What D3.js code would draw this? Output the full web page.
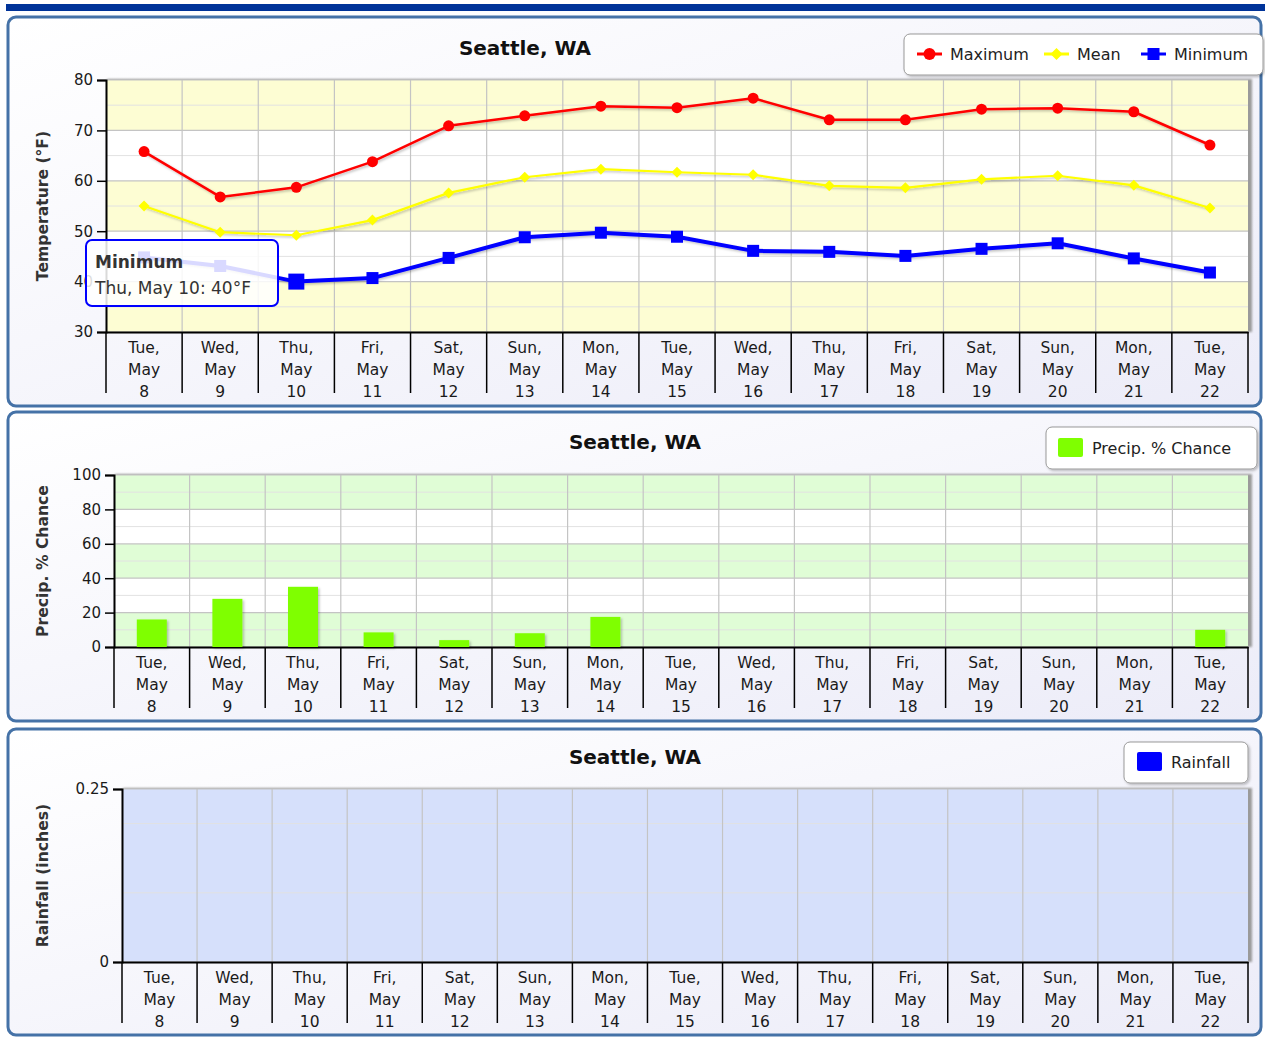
<!DOCTYPE html>
<html>
<head>
<meta charset="utf-8">
<script src="https://cdn.jsdelivr.net/npm/d3@7"></script>
<style>
  html, body { margin: 0; padding: 0; background: #fff; }
  svg { display: block; font-family: "DejaVu Sans", Verdana, sans-serif; }
</style>
</head>
<body>
<svg id="chart" width="1265" height="1038"></svg>
<script>
// data
const dayNames = ['Tue','Wed','Thu','Fri','Sat','Sun','Mon','Tue','Wed','Thu','Fri','Sat','Sun','Mon','Tue'];
const dayNums  = [8, 9, 10, 11, 12, 13, 14, 15, 16, 17, 18, 19, 20, 21, 22];
const tempMax  = [65.8, 56.8, 58.7, 63.8, 70.9, 72.9, 74.8, 74.5, 76.4, 72.1, 72.1, 74.2, 74.4, 73.7, 67.1];
const tempMean = [55.0, 49.8, 49.2, 52.2, 57.6, 60.7, 62.3, 61.7, 61.2, 59.0, 58.6, 60.3, 61.0, 59.1, 54.6];
const tempMin  = [44.8, 43.1, 40.0, 40.7, 44.7, 48.8, 49.7, 48.9, 46.1, 45.9, 45.1, 46.5, 47.6, 44.6, 41.8];
const precipChance = [16, 28, 35, 8.5, 4, 8, 17.5, 0, 0, 0, 0, 0, 0, 0, 10];
const rainfall = [0, 0, 0, 0, 0, 0, 0, 0, 0, 0, 0, 0, 0, 0, 0];
const tempTicks = [30, 40, 50, 60, 70, 80];
const precipTicks = [0, 20, 40, 60, 80, 100];
const rainTicks = [0, 0.25];

const cats = dayNums.map((d, i) => dayNames[i] + '|' + d);

const svg = d3.select('#chart');
const defs = svg.append('defs');

const grad = defs.append('linearGradient').attr('id', 'panelBg')
  .attr('x1', 0).attr('y1', 0).attr('x2', 1).attr('y2', 1);
grad.append('stop').attr('offset', '0%').attr('stop-color', '#ffffff');
grad.append('stop').attr('offset', '100%').attr('stop-color', '#ececf8');

const sh = defs.append('filter').attr('id', 'shadow')
  .attr('x', '-20%').attr('y', '-20%').attr('width', '150%').attr('height', '150%');
sh.append('feDropShadow').attr('dx', 1.5).attr('dy', 1.5).attr('stdDeviation', 1.2)
  .attr('flood-color', '#000').attr('flood-opacity', 0.25);

const blur = defs.append('filter').attr('id', 'blur');
blur.append('feGaussianBlur').attr('stdDeviation', 1.2);

// top dark bar
svg.append('rect').attr('x', 6).attr('y', 4).attr('width', 1259).attr('height', 7).attr('fill', '#003399');

function panel(o) {
  const g = svg.append('g');
  g.append('rect').attr('x', 8).attr('y', o.top).attr('width', 1253).attr('height', o.bottom - o.top)
    .attr('rx', 8).attr('fill', 'url(#panelBg)').attr('stroke', '#4572a7').attr('stroke-width', 3);

  g.append('text').attr('x', o.titleX).attr('y', o.titleY).attr('text-anchor', 'middle')
    .attr('font-size', 20).attr('font-weight', 'bold').attr('fill', '#111').text('Seattle, WA');

  const x = d3.scaleBand().domain(cats).range([o.x0, o.x1]);
  const y = d3.scaleLinear().domain(o.domain).range([o.y1, o.y0]);

  // plot shadow
  g.append('rect').attr('x', o.x0 + 1).attr('y', o.y0 - 1).attr('width', o.x1 - o.x0 + 3).attr('height', o.y1 - o.y0 + 1)
    .attr('fill', '#9a9a9a').attr('filter', 'url(#blur)');
  g.append('rect').attr('x', o.x0).attr('y', o.y0).attr('width', o.x1 - o.x0).attr('height', o.y1 - o.y0)
    .attr('fill', o.plotBg);

  // bands
  o.bands.forEach(b => {
    g.append('rect').attr('x', o.x0).attr('width', o.x1 - o.x0)
      .attr('y', y(b[1])).attr('height', y(b[0]) - y(b[1])).attr('fill', b[2]);
  });

  // minor grid
  g.selectAll(null).data(o.minor).enter().append('line')
    .attr('x1', o.x0).attr('x2', o.x1).attr('y1', d => y(d)).attr('y2', d => y(d))
    .attr('stroke', '#e2e2e2').attr('stroke-width', 1);
  // major grid
  g.selectAll(null).data(o.ticks).enter().append('line')
    .attr('x1', o.x0).attr('x2', o.x1).attr('y1', d => y(d)).attr('y2', d => y(d))
    .attr('stroke', '#c4c4c4').attr('stroke-width', 1.2);
  // vertical grid at category boundaries
  g.selectAll(null).data(cats.slice(1)).enter().append('line')
    .attr('x1', d => x(d)).attr('x2', d => x(d)).attr('y1', o.y0).attr('y2', o.y1)
    .attr('stroke', '#c4c4c4').attr('stroke-width', 1.2);

  // y axis
  const ya = g.append('g').attr('transform', 'translate(' + o.x0 + ',0)')
    .call(d3.axisLeft(y).tickValues(o.ticks).tickSize(9).tickPadding(4).tickFormat(o.fmt));
  ya.select('.domain').attr('stroke', '#000').attr('stroke-width', 2);
  ya.selectAll('.tick line').attr('stroke', '#000').attr('stroke-width', 1.5);
  ya.selectAll('.tick text').attr('font-size', 15).attr('fill', '#1a1a1a')
    .attr('font-family', '"DejaVu Sans", Verdana, sans-serif');

  // y title
  g.append('text').attr('transform', 'translate(' + 48 + ',' + ((o.y0 + o.y1) / 2) + ') rotate(-90)')
    .attr('text-anchor', 'middle').attr('font-size', 15.6).attr('font-weight', 'bold').attr('fill', '#333')
    .text(o.yTitle);

  // x axis
  const xa = g.append('g').attr('transform', 'translate(0,' + o.y1 + ')')
    .call(d3.axisBottom(x).tickSize(0).tickFormat(''));
  xa.select('.domain').attr('stroke', '#000').attr('stroke-width', 2);
  g.selectAll(null).data(cats.concat(['end'])).enter().append('line')
    .attr('x1', (d, i) => i < cats.length ? x(d) : o.x1)
    .attr('x2', (d, i) => i < cats.length ? x(d) : o.x1)
    .attr('y1', o.y1).attr('y2', o.y1 + 61)
    .attr('stroke', '#000').attr('stroke-width', 1.5);
  const lab = g.selectAll(null).data(cats).enter().append('text')
    .attr('text-anchor', 'middle').attr('font-size', 15.5).attr('fill', '#1a1a1a');
  lab.each(function (d) {
    const parts = d.split('|');
    const t = d3.select(this);
    const cx = x(d) + x.bandwidth() / 2;
    [parts[0] + ',', 'May', parts[1]].forEach((s, k) => {
      t.append('tspan').attr('x', cx).attr('y', o.y1 + 21 + k * 22).text(s);
    });
  });

  // legend box
  g.append('rect').attr('x', o.leg[0]).attr('y', o.leg[1]).attr('width', o.leg[2]).attr('height', o.leg[3])
    .attr('rx', 6).attr('fill', '#fff').attr('stroke', '#999').attr('stroke-width', 1)
    .attr('filter', 'url(#shadow)');

  return { g, x, y };
}

// ---- panel 1: temperature ----
const p1 = panel({
  top: 17, bottom: 406, titleX: 525, titleY: 55,
  x0: 106, x1: 1248, y0: 80, y1: 332,
  domain: [30, 80], ticks: tempTicks, minor: [35, 45, 55, 65, 75],
  fmt: d3.format('d'), plotBg: '#ffffff',
  bands: [[30, 40, '#fdfdd3'], [50, 60, '#fdfdd3'], [70, 80, '#fdfdd3']],
  yTitle: 'Temperature (\u00b0F)', leg: [904, 34, 359, 41]
});

const line1 = d3.line().x((d, i) => p1.x(cats[i]) + p1.x.bandwidth() / 2).y(d => p1.y(d));
const cx1 = i => p1.x(cats[i]) + p1.x.bandwidth() / 2;

const series = [
  { data: tempMax, color: '#ff0000', width: 2.5, sym: 'circle', size: 5.5 },
  { data: tempMean, color: '#ffff00', width: 2.2, sym: 'diamond', size: 5.5 },
  { data: tempMin, color: '#0000ff', width: 4, sym: 'square', size: 6 }
];
series.forEach(s => {
  p1.g.append('path').datum(s.data).attr('d', line1).attr('fill', 'none')
    .attr('stroke', s.color).attr('stroke-width', s.width).attr('stroke-linejoin', 'round')
    .attr('filter', 'url(#shadow)');
  const pts = p1.g.selectAll(null).data(s.data).enter();
  if (s.sym === 'circle') {
    pts.append('circle').attr('cx', (d, i) => cx1(i)).attr('cy', d => p1.y(d)).attr('r', s.size).attr('fill', s.color);
  } else if (s.sym === 'diamond') {
    pts.append('path').attr('fill', s.color)
      .attr('d', (d, i) => { const X = cx1(i), Y = p1.y(d), r = s.size; return `M${X},${Y - r}L${X + r},${Y}L${X},${Y + r}L${X - r},${Y}Z`; });
  } else {
    pts.append('rect').attr('fill', s.color)
      .attr('x', (d, i) => cx1(i) - (i === 2 ? 8 : s.size)).attr('y', (d, i) => p1.y(d) - (i === 2 ? 8 : s.size))
      .attr('width', (d, i) => i === 2 ? 16 : s.size * 2).attr('height', (d, i) => i === 2 ? 16 : s.size * 2);
  }
});

// legend 1
const legItems = [
  { x: 917, label: 'Maximum', color: '#ff0000', sym: 'circle' },
  { x: 1044, label: 'Mean', color: '#ffff00', sym: 'diamond' },
  { x: 1141, label: 'Minimum', color: '#0000ff', sym: 'square' }
];
legItems.forEach(l => {
  const ly = 54;
  p1.g.append('line').attr('x1', l.x).attr('x2', l.x + 25).attr('y1', ly).attr('y2', ly)
    .attr('stroke', l.color).attr('stroke-width', 3);
  const mx = l.x + 12.5;
  if (l.sym === 'circle') p1.g.append('circle').attr('cx', mx).attr('cy', ly).attr('r', 6).attr('fill', l.color);
  else if (l.sym === 'diamond') p1.g.append('path').attr('fill', l.color).attr('d', `M${mx},${ly - 6}L${mx + 6},${ly}L${mx},${ly + 6}L${mx - 6},${ly}Z`);
  else p1.g.append('rect').attr('x', mx - 6).attr('y', ly - 6).attr('width', 12).attr('height', 12).attr('fill', l.color);
  p1.g.append('text').attr('x', l.x + 33).attr('y', ly + 6).attr('font-size', 16).attr('fill', '#222').text(l.label);
});

// tooltip
const tip = p1.g.append('g');
tip.append('rect').attr('x', 86).attr('y', 240).attr('width', 192).attr('height', 66).attr('rx', 6)
  .attr('fill', '#fff').attr('fill-opacity', 0.85).attr('stroke', '#0000ff').attr('stroke-width', 2);
tip.append('text').attr('x', 95).attr('y', 268).attr('font-size', 17).attr('font-weight', 'bold').attr('fill', '#333').text('Minimum');
tip.append('text').attr('x', 95).attr('y', 294).attr('font-size', 17).attr('fill', '#333')
  .text(`${dayNames[2]}, May ${dayNums[2]}: ${tempMin[2]}\u00b0F`);

// ---- panel 2: precip chance ----
const p2 = panel({
  top: 412, bottom: 721, titleX: 635, titleY: 449,
  x0: 114, x1: 1248, y0: 475, y1: 647,
  domain: [0, 100], ticks: precipTicks, minor: [10, 30, 50, 70, 90],
  fmt: d3.format('d'), plotBg: '#ffffff',
  bands: [[0, 20, '#e0fdd6'], [40, 60, '#e0fdd6'], [80, 100, '#e0fdd6']],
  yTitle: 'Precip. % Chance', leg: [1046, 427, 211, 42]
});
p2.g.selectAll(null).data(precipChance).enter().append('rect')
  .attr('x', (d, i) => p2.x(cats[i]) + p2.x.bandwidth() / 2 - 15).attr('width', 30)
  .attr('y', d => p2.y(d)).attr('height', d => p2.y(0) - p2.y(d))
  .attr('fill', '#7fff00').attr('filter', 'url(#shadow)');
p2.g.append('rect').attr('x', 1058).attr('y', 438).attr('width', 25).attr('height', 19).attr('rx', 2).attr('fill', '#7fff00');
p2.g.append('text').attr('x', 1092).attr('y', 454).attr('font-size', 16).attr('fill', '#222').text('Precip. % Chance');

// ---- panel 3: rainfall ----
const p3 = panel({
  top: 729, bottom: 1035, titleX: 635, titleY: 764,
  x0: 122, x1: 1248, y0: 789, y1: 962,
  domain: [0, 0.25], ticks: rainTicks, minor: [0.1, 0.2],
  fmt: d => d === 0 ? '0' : d3.format('.2f')(d), plotBg: '#d6e0fb',
  bands: [],
  yTitle: 'Rainfall (inches)', leg: [1124, 742, 124, 41]
});
p3.g.selectAll(null).data(rainfall).enter().append('rect')
  .attr('x', (d, i) => p3.x(cats[i]) + p3.x.bandwidth() / 2 - 15).attr('width', 30)
  .attr('y', d => p3.y(d)).attr('height', d => p3.y(0) - p3.y(d))
  .attr('fill', '#0000ff');
p3.g.append('rect').attr('x', 1137).attr('y', 752).attr('width', 25).attr('height', 19).attr('rx', 2).attr('fill', '#0000ff');
p3.g.append('text').attr('x', 1171).attr('y', 768).attr('font-size', 16).attr('fill', '#222').text('Rainfall');
</script>
</body>
</html>
